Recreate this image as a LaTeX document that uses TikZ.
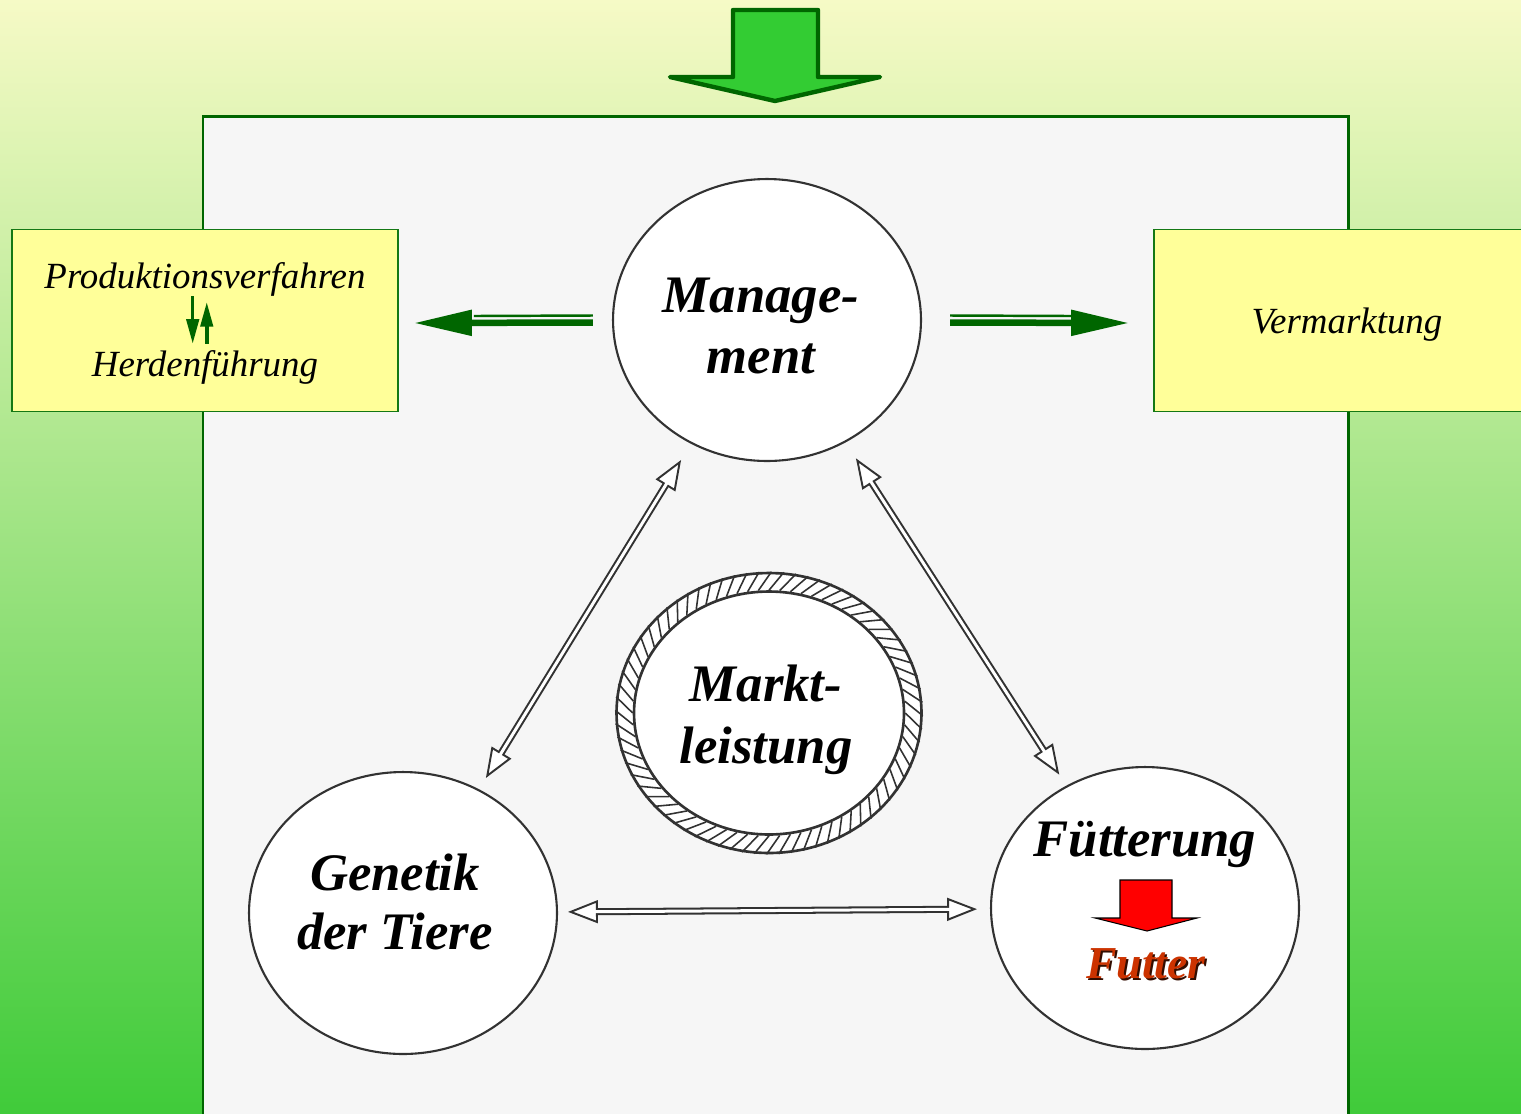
\documentclass[tikz,border=0pt]{standalone}
\usepackage{fontspec}
\setmainfont{Liberation Serif}
\usepackage{tikz}
\usetikzlibrary{arrows.meta,shapes.geometric,positioning,calc}

\definecolor{bgtop}{RGB}{246,250,198}
\definecolor{bgmid}{RGB}{183,230,148}
\definecolor{bgbot}{RGB}{64,203,58}
\definecolor{darkgreen}{RGB}{0,102,0}
\definecolor{boxgreen}{RGB}{20,120,20}
\definecolor{boxyellow}{RGB}{255,255,153}
\definecolor{blockgreen}{RGB}{51,204,51}
\definecolor{futterred}{RGB}{204,51,0}
\definecolor{inkgray}{RGB}{50,50,50}
\definecolor{paper}{RGB}{246,246,246}

\tikzset{
  bigcirc/.style={ellipse, draw=inkgray, line width=1.2pt, fill=white,
    minimum width=6.16cm, minimum height=5.64cm, inner sep=0pt},
  circtext/.style={align=center, font=\fontsize{30}{35}\selectfont\bfseries\itshape},
  infobox/.style={rectangle, draw=boxgreen, line width=1.1pt, fill=boxyellow,
    minimum width=7.72cm, minimum height=3.64cm},
  boxtext/.style={anchor=base, font=\fontsize{21}{25}\selectfont\itshape},
  twoway/.style={draw=inkgray, line width=4pt,
    {Triangle[open, fill=white, line width=1.1pt, length=17pt, width=13pt]}-{Triangle[open, fill=white, line width=1.1pt, length=17pt, width=13pt]}},
  twowayin/.style={draw=white, line width=1.7pt},
  shaftthick/.style={draw=darkgreen, line width=3.7pt, -{Triangle[length=33pt, width=14pt]}},
  shaftthin/.style={draw=darkgreen, line width=1.4pt},
  updown/.style={draw=darkgreen, line width=2pt, -{Triangle[length=14pt, width=7pt]}}
}

\begin{document}
\begin{tikzpicture}[x=0.02cm, y=-0.02cm]
\useasboundingbox (0,0) rectangle (1521,1113);
% background
\shade[top color=bgtop, middle color=bgmid, bottom color=bgbot] (0,0) rectangle (1521,1113);
\draw[draw=darkgreen, line width=1.7pt, fill=paper] (203,1130) -- (203,116) -- (1348,116) -- (1348,1130);

% top block arrow
\draw[darkgreen, fill=blockgreen, line width=2.5pt, line join=round]
  (733,10) -- (818,10) -- (818,77) -- (880,77) -- (775,101) -- (670,77) -- (733,77) -- cycle;

% side boxes
\node[infobox] (prodbox) at (205,320.5) {};
\node[infobox] (vermbox) at (1347,320.5) {};
\node[boxtext] (prod) at (205,288) {Produktionsverfahren};
\node[boxtext] (herd) at (205,376) {Herdenführung};
\node[boxtext] (verm) at (1347,333) {Vermarktung};
\draw[updown] ([xshift=-7pt]prod.south) ++(0,-6) -- ([xshift=-7pt]herd.north);
\draw[updown] ([xshift=1pt]herd.north) -- ([xshift=1pt]prod.south);

% circles
\node[bigcirc] (mgmt) at (767,320) {};
\node[bigcirc] (gen) at (403,913) {};
\node[bigcirc] (fut) at (1145,908) {};
\node[bigcirc, minimum width=6.1cm, minimum height=5.6cm, line width=1.5pt] (marktring) at (769,713) {};
\node[bigcirc, minimum width=5.4cm, minimum height=4.86cm, line width=1.5pt] (markt) at (769,713) {};
\foreach \t in {0,5,...,355} {
  \pgfmathtruncatemacro{\o}{mod(\t+354,360)}
  \draw[inkgray, line width=0.9pt] (markt.\t) -- (marktring.\o);
}
\node[circtext] (mgmtlabel) at ($(mgmt)+(-6,6)$) {Manage-\\ment};
\node[circtext, font=\fontsize{30}{34}\selectfont\bfseries\itshape] (genlabel) at ($(gen)+(-8,-11)$) {Genetik\\der Tiere};
\node[circtext] (marktlabel) at ($(markt)+(-3,7)$) {Markt-\\leistung};

% text in Fuetterung
\node[anchor=base, font=\fontsize{30}{35}\selectfont\bfseries\itshape] (futtext) at (1145,856) {Fütterung};
\draw[black, fill=red, line width=0.6pt]
  (1120,880) -- (1172,880) -- (1172,918) -- (1197,918) -- (1147,931) -- (1095,918) -- (1120,918) -- cycle;
\node[anchor=base, font=\fontsize{26}{30}\selectfont\bfseries\itshape, text=black!75!futterred] (futshadow) at (1148,980) {Futter};
\node[anchor=base, font=\fontsize{26}{30}\selectfont\bfseries\itshape, text=futterred] (futter) at (1146,978) {Futter};

% green arrows to the boxes
\draw[shaftthick] ($(mgmt.west)+(-19,2.5)$) -- ($(prodbox.east)+(15,2.5)$);
\draw[shaftthin] ($(mgmt.west)+(-19,-4.5)$) -- ($(prodbox.east)+(75,-4.5)$);
\draw[shaftthick] ($(mgmt.east)+(28,2.5)$) -- ($(vermbox.west)+(-24,2.5)$);
\draw[shaftthin] ($(mgmt.east)+(28,-4.5)$) -- ($(vermbox.west)+(-82,-4.5)$);

% connectors between the circles
\foreach \a/\b/\s/\e in {mgmt/gen/10.8pt/7.5pt, mgmt/fut/10.8pt/7.4pt, gen/fut/5.7pt/7.4pt} {
  \draw[twoway, shorten <=\s, shorten >=\e] (\a) -- (\b);
  \draw[twowayin, shorten <=\s+15pt, shorten >=\e+15pt] (\a) -- (\b);
}
\end{tikzpicture}
\end{document}
